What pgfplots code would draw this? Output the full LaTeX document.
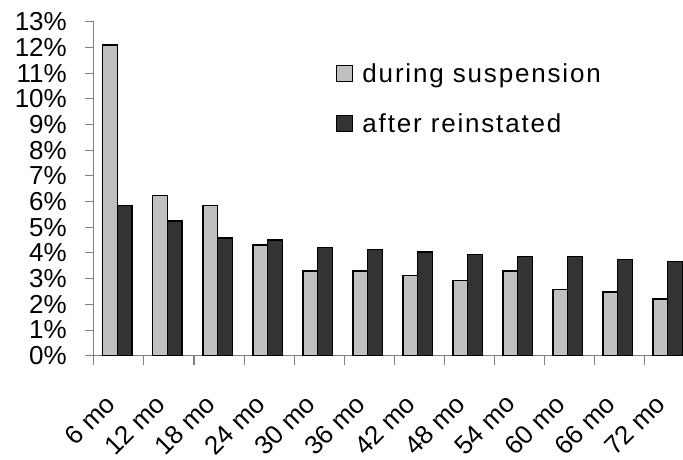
\documentclass[border=0pt]{standalone}
\usepackage{fontspec}
\setmainfont{Liberation Sans}
\usepackage{pgfplots}
\pgfplotsset{compat=1.18}

\definecolor{lightbar}{HTML}{C0C0C0}
\definecolor{darkbar}{HTML}{333333}
\definecolor{axisgray}{HTML}{808080}

\newcommand{\bigfont}{\fontsize{26}{31}\selectfont}

\begin{document}
\begin{tikzpicture}
\begin{axis}[
  at={(0pt,0pt)}, anchor=south west,
  scale only axis,
  width=589pt, height=334pt,
  xmin=-0.5, xmax=11.28,
  ymin=0, ymax=13,
  ybar=0pt, bar width=14.6pt,
  axis x line*=bottom, axis y line*=left,
  axis line style={axisgray, line width=1pt, -},
  tick align=outside,
  tick style={axisgray, line width=1pt},
  major tick length=9pt,
  minor tick length=9pt,
  every major x tick/.append style={draw=none},
  ytick={0,...,13},
  yticklabels={0\%,1\%,2\%,3\%,4\%,5\%,6\%,7\%,8\%,9\%,10\%,11\%,12\%,13\%},
  xtick={0,...,11},
  minor xtick={-0.5,0.5,...,10.5},
  xticklabels={6 mo,12 mo,18 mo,24 mo,30 mo,36 mo,42 mo,48 mo,54 mo,60 mo,66 mo,72 mo},
  ticklabel style={font=\bigfont, text=black, inner sep=0pt},
  yticklabel style={xshift=-18pt},
  xticklabel style={xshift=-15pt, yshift=-28pt, rotate=45, anchor=north east},
  legend style={at={(rel axis cs:0.411,0.876)}, anchor=north west,
    draw=none, fill=none, inner sep=0pt, row sep=30pt,
    font=\bigfont\addfontfeature{LetterSpace=7}, nodes={inner sep=0pt}},
  legend cell align=left,
  legend image code/.code={
    \draw[#1, line width=1.2pt] (0pt,-8pt) rectangle (16pt,8pt);
    \path (25pt,0pt);},
]
\addplot[fill=lightbar, draw=black, line width=1.2pt, bar shift=-8.8pt] coordinates {
  (0,12.09) (1,6.23) (2,5.86) (3,4.31) (4,3.30) (5,3.30)
  (6,3.11) (7,2.93) (8,3.30) (9,2.57) (10,2.48) (11,2.21)
};
\addlegendentry{during suspension}
\addplot[fill=darkbar, draw=black, line width=1.2pt, bar shift=5.8pt] coordinates {
  (0,5.86) (1,5.24) (2,4.58) (3,4.50) (4,4.22) (5,4.14)
  (6,4.04) (7,3.95) (8,3.85) (9,3.85) (10,3.76) (11,3.67)
};
\addlegendentry{after reinstated}
\end{axis}
\pgfresetboundingbox
\path[use as bounding box] (-94pt,-103.3pt) rectangle (589pt,355.7pt);
\end{tikzpicture}
\end{document}
